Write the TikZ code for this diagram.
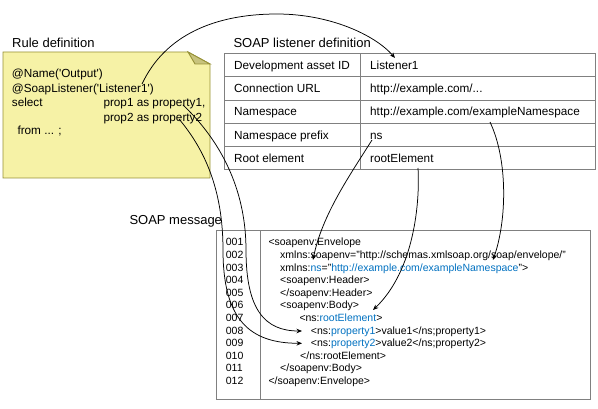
\documentclass[tikz,border=0pt]{standalone}
\usepackage{fontspec}
\setmainfont{Liberation Sans}
\usetikzlibrary{arrows.meta}
\definecolor{notefill}{RGB}{246,242,166}
\definecolor{notedraw}{RGB}{150,145,55}
\definecolor{foldfill}{RGB}{200,195,125}
\definecolor{gridgray}{RGB}{128,128,128}
\definecolor{codeblue}{RGB}{0,112,192}
\newcommand\sq{\textquotesingle}
\newcommand\bl[1]{\textcolor{codeblue}{#1}}
\begin{document}
\begin{tikzpicture}[x=1pt,y=-1pt,
  txt/.style={anchor=base west, inner sep=0pt, font=\fontsize{11.75}{14}\selectfont},
  lbl/.style={anchor=base west, inner sep=0pt, font=\fontsize{13}{15}\selectfont},
  code/.style={anchor=base west, inner sep=0pt, font=\fontsize{10.5}{12}\selectfont},
  grid/.style={draw=gridgray, line width=0.9pt},
  link/.style={draw=black, line width=0.75pt, -{Stealth[length=5.5pt,width=4.5pt]}}]
\useasboundingbox (0,0) rectangle (598,409);

% ---- Rule definition note
\node[lbl] (rulelbl) at (12,47.4) {Rule definition};
\draw[draw=notedraw, fill=notefill, line width=0.9pt]
  (3,52) -- (188,52) -- (210,64) -- (210,178) -- (3,178) -- cycle;
\draw[draw=notedraw, fill=foldfill, line width=0.9pt]
  (188,52) .. controls (192,58) .. (195,64) -- (210,64) -- cycle;
\node[txt] (r1) at (11.7,77.6) {@Name(\sq Output\sq)};
\node[txt] (r2) at (11.7,92.6) {@SoapListener(\sq Listener1\sq)};
\node[txt] (r3) at (11.7,107) {select};
\node[txt] (r3b) at (103.3,107) {prop1 as property1,};
\node[txt] (r4) at (103.3,121.6) {prop2 as property2};
\node[txt] (r5) at (17.3,135) {from ... ;};

% ---- SOAP listener definition table
\node[lbl] (tablbl) at (233.3,47.4) {SOAP listener definition};
\foreach \yy in {53.3,76.7,100,123.3,146.7,169.3}
  \draw[grid] (224,\yy) -- (595.7,\yy);
\draw[grid] (224,53.3) -- (224,169.3);
\draw[grid] (360.7,53.3) -- (360.7,169.3);
\draw[grid] (595.7,53.3) -- (595.7,169.3);
\node[txt] (k1) at (234,69.3) {Development asset ID};
\node[txt] (v1) at (370,69.3) {Listener1};
\node[txt] (k2) at (234,92.6) {Connection URL};
\node[txt] (v2) at (370,92.6) {http://example.com/...};
\node[txt] (k3) at (234,116) {Namespace};
\node[txt] (v3) at (370,116) {http://example.com/exampleNamespace};
\node[txt] (k4) at (234,139.3) {Namespace prefix};
\node[txt] (v4) at (370,139.3) {ns};
\node[txt] (k5) at (234,162.3) {Root element};
\node[txt] (v5) at (370,162.3) {rootElement};

% ---- SOAP message
\node[lbl] (msglbl) at (129.3,224.5) {SOAP message};
\draw[grid] (216.7,230.3) rectangle (590.3,399);
\draw[grid] (260.3,230.3) -- (260.3,399);
\foreach \n [count=\i] in {001,002,003,004,005,006,007,008,009,010,011,012}
  \node[code] (n\i) at (225.7,{246+12.58*(\i-1)}) {\n};
\node[code] (c1) at (268.3,246) {<soapenv:Envelope};
\node[code] (c2) at (280,258.58) {xmlns:soapenv="http://schemas.xmlsoap.org/soap/envelope/"};
\node[code] (c3) at (280,271.16) {xmlns:\bl{ns}="\bl{http://example.com/exampleNamespace}">};
\node[code] (c4) at (280,283.74) {<soapenv:Header>};
\node[code] (c5) at (280,296.32) {</soapenv:Header>};
\node[code] (c6) at (280,308.9) {<soapenv:Body>};
\node[code] (c7) at (299.3,321.48) {<ns:\bl{rootElement}>};
\node[code] (c8) at (310.7,334.06) {<ns:\bl{property1}>value1</ns;property1>};
\node[code] (c9) at (310.7,346.64) {<ns:\bl{property2}>value2</ns;property2>};
\node[code] (c10) at (300,359.22) {</ns:rootElement>};
\node[code] (c11) at (280,371.8) {</soapenv:Body>};
\node[code] (c12) at (268.3,384.38) {</soapenv:Envelope>};

% ---- connector end points
\coordinate (sL) at (142,84);
\coordinate (tL) at (395,58);
\coordinate (sP1) at (183,105);
\coordinate (tP1) at (302,331);
\coordinate (sP2) at (179,119);
\coordinate (tP2) at (302,343.3);
\coordinate (sNs) at (372,140);
\coordinate (tNs) at (313,260);
\coordinate (sRoot) at (418,168);
\coordinate (tRoot) at (373,310);
\coordinate (sNsp) at (490,122);
\coordinate (tNsp) at (493,260);
\coordinate (peak) at (277,14);

% ---- connectors
\draw[link] (sL) .. controls (165,35) and (215,14) .. (peak)
  .. controls (330,14) and (375,35) .. (tL);
\draw[link] (sP1) .. controls (225,145) and (246,195) .. (246,250)
  .. controls (246,310) and (265,331) .. (tP1);
\draw[link] (sP2) .. controls (205,150) and (223,190) .. (223,250)
  .. controls (223,320) and (250,343.3) .. (tP2);
\draw[link] (sNs) .. controls (350,175) and (322,215) .. (tNs);
\draw[link] (sRoot) .. controls (420,200) and (415,270) .. (tRoot);
\draw[link] (sNsp) .. controls (508,160) and (507,220) .. (tNsp);
\end{tikzpicture}
\end{document}
